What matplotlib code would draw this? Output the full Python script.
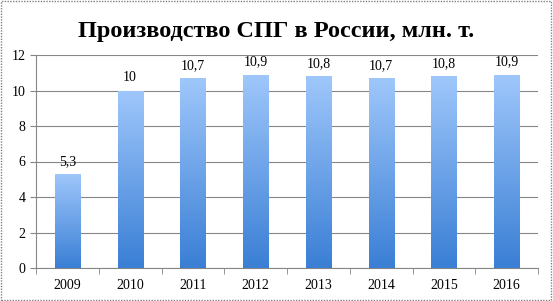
import matplotlib
matplotlib.use("Agg")
import matplotlib.pyplot as plt
import numpy as np
from matplotlib.colors import LinearSegmentedColormap
from matplotlib.patches import Rectangle

years = ["2009", "2010", "2011", "2012", "2013", "2014", "2015", "2016"]
values = [5.3, 10, 10.7, 10.9, 10.8, 10.7, 10.8, 10.9]
labels = ["5,3", "10", "10,7", "10,9", "10,8", "10,7", "10,8", "10,9"]
title = "Производство СПГ в России, млн. т."

plt.rcParams['font.family'] = ['Liberation Serif', 'DejaVu Serif']

fig = plt.figure(figsize=(5.53, 3.01), dpi=100)
ax = fig.add_axes([36/553, 33/301, 502/553, 213/301])

x = np.arange(len(years))
bars = ax.bar(x, values, width=0.4, color='none', edgecolor='none', zorder=3)

cmap = LinearSegmentedColormap.from_list('g', ['#3a7fd5', '#9fc7fb'])
grad = np.linspace(0, 1, 256).reshape(-1, 1)
for b in bars:
    x0, y0 = b.get_x(), b.get_y()
    w, h = b.get_width(), b.get_height()
    im = ax.imshow(grad, cmap=cmap, origin='lower', aspect='auto',
                   extent=[x0, x0 + w, y0, y0 + h], zorder=3)
    im.set_clip_path(b)

ax.set_xlim(-0.5, len(years) - 0.5)
ax.set_ylim(0, 12)
ax.set_yticks(range(0, 13, 2))
ax.set_xticks(x)
ax.set_xticklabels(years, fontsize=10)
ax.tick_params(axis='x', length=0, pad=8)
ax.set_xticks(np.arange(-0.5, len(years) + 0.5, 1), minor=True)
ax.tick_params(axis='x', which='minor', length=4, direction='out', color='#868686')
ax.tick_params(axis='y', length=4, direction='out', color='#868686', labelsize=10)
ax.grid(axis='y', color='#868686', linewidth=0.8, zorder=0)
ax.set_axisbelow(True)
for s in ['top', 'right']:
    ax.spines[s].set_visible(False)
for s in ['left', 'bottom']:
    ax.spines[s].set_color('#868686')

for xi, v, lab in zip(x, values, labels):
    ax.text(xi, v + 0.35, lab, ha='center', va='bottom', fontsize=10)

fig.text(0.5, 0.895, title, ha='center', va='center', fontsize=17.5, fontweight='bold')

border = Rectangle((0.002, 0.003), 0.995, 0.993, transform=fig.transFigure,
                   fill=False, edgecolor='#808080', linewidth=1, linestyle=(0, (1, 1)))
fig.patches.append(border)

fig.savefig('out.png', dpi=100)
